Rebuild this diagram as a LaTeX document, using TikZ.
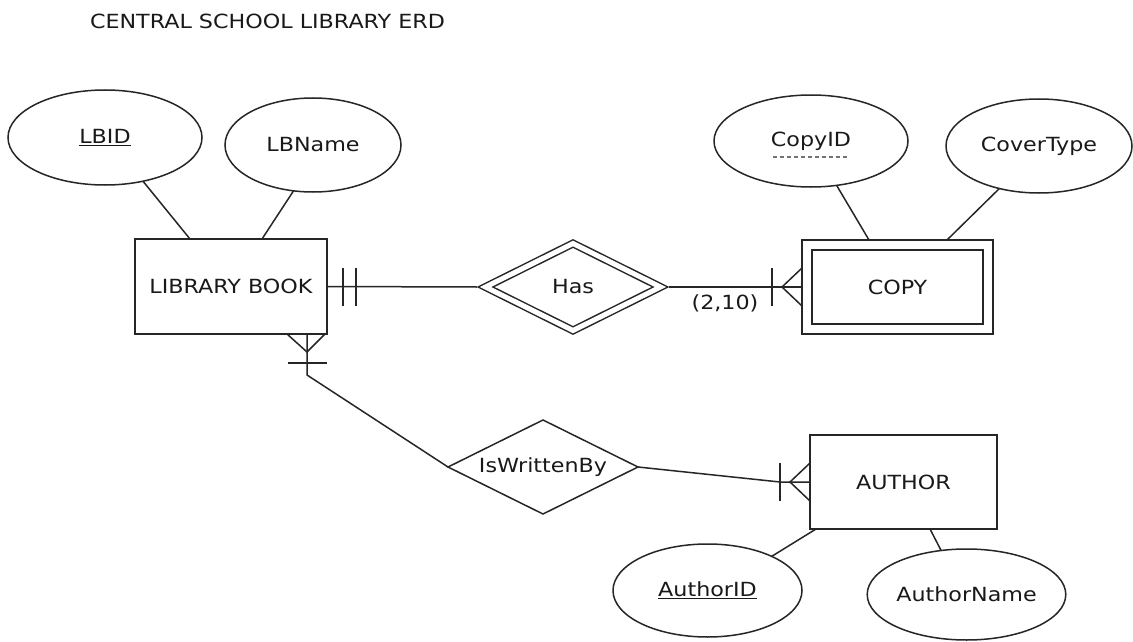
\documentclass[tikz,border=0pt]{standalone}
\usepackage{fontspec}
\setmainfont[FakeStretch=1.14]{DejaVu Sans}
\usetikzlibrary{shapes.geometric,calc}
\begin{document}
\begin{tikzpicture}[x=1pt,y=-1pt,
  every node/.style={font=\fontsize{19.5}{23}\selectfont, text=black!90, outer sep=0pt, inner sep=0pt},
  attr/.style={ellipse, draw=black!85, line width=1.5pt},
  entity/.style={rectangle, draw=black!85, line width=1.5pt},
  rel/.style={diamond, aspect=2, draw=black!85, line width=1.5pt},
  conn/.style={line width=1.5pt, draw=black!85},
  dashline/.style={line width=1.2pt, draw=black!55, dash pattern=on 4pt off 3pt}]
\useasboundingbox (0,0) rectangle (1133,642);
\fill[white] (0,0) rectangle (1133,642);

\node (title) at (267.5,21) {CENTRAL SCHOOL LIBRARY ERD};

% entities
\node[entity, minimum width=192, minimum height=95] (book) at (231,286.5) {LIBRARY BOOK};
\node[entity, double, double distance=8.5pt, minimum width=181, minimum height=84] (copy) at (897.5,287) {COPY};
\node[entity, minimum width=187, minimum height=94] (author) at (903.5,482) {AUTHOR};

% relationships
\node[rel, double, double distance=5pt, minimum width=175, minimum height=87] (has) at (573,287) {Has};
\node[rel, minimum width=190, minimum height=94] (iw) at (543,467) {IsWrittenBy};

% attributes
\node[attr, minimum width=194, minimum height=95] (lbid) at (105,137.5) {\underline{LBID}};
\node[attr, minimum width=176, minimum height=94] (lbname) at (313,145) {LBName};
\node[attr, minimum width=194, minimum height=92] (copyid) at (811,141) {CopyID};
\draw[dashline] ($(copyid)+(-38,16)$) -- ($(copyid)+(38,16)$);
\node[attr, minimum width=186, minimum height=94] (cover) at (1039,146) {CoverType};
\node[attr, minimum width=189, minimum height=93] (authorid) at (707.5,590.5) {\underline{AuthorID}};
\node[attr, minimum width=187, minimum height=91] (authorname) at (966.5,594.5) {AuthorName};

% attribute links
\draw[conn] (lbid.-49.5) -- ($(book.north)+(-41,0)$);
\draw[conn] (lbname.-113.5) -- ($(book.north)+(31,0)$);
\draw[conn] (copyid.-60) -- ($(copy.north)+(-28.5,-5)$);
\draw[conn] (cover.-133.6) -- ($(copy.north)+(49.5,-5)$);
\draw[conn] (authorid.28.8) -- ($(author.south west)+(6,0)$);
\draw[conn] (authorname.120) -- ($(author.south)+(26.5,0)$);

% LIBRARY BOOK -- Has
\draw[conn] (book.east) -- ($(has.west)+(-8.5,0)$);
\draw[conn] ($(book.east)+(16,-19)$) -- ($(book.east)+(16,19)$);
\draw[conn] ($(book.east)+(29,-19)$) -- ($(book.east)+(29,19)$);

% Has -- COPY
\coordinate (cl) at ($(copy.west)+(-5,0)$);
\draw[conn] ($(has.east)+(8.5,0)$) -- (cl);
\draw[conn] ($(cl)+(-30,-19)$) -- ($(cl)+(-30,19)$);
\draw[conn] ($(cl)+(0,-19)$) -- ($(cl)+(-20,0)$) -- ($(cl)+(0,19)$);
\node (card) at (725,303) {(2,10)};

% LIBRARY BOOK -- IsWrittenBy
\coordinate (bb) at ($(book.south)+(76,0)$);
\draw[conn] (bb) -- ($(bb)+(0,41)$) -- (iw.west);
\draw[conn] ($(bb)+(-20,0)$) -- ($(bb)+(0,18)$) -- ($(bb)+(18,0)$);
\draw[conn] ($(bb)+(-19,29)$) -- ($(bb)+(20,29)$);

% IsWrittenBy -- AUTHOR
\draw[conn] (iw.east) -- ($(author.west)+(-30,0)$) -- (author.west);
\draw[conn] ($(author.west)+(-30,-19)$) -- ($(author.west)+(-30,19)$);
\draw[conn] ($(author.west)+(0,-19)$) -- ($(author.west)+(-20,0)$) -- ($(author.west)+(0,19)$);
\end{tikzpicture}
\end{document}
